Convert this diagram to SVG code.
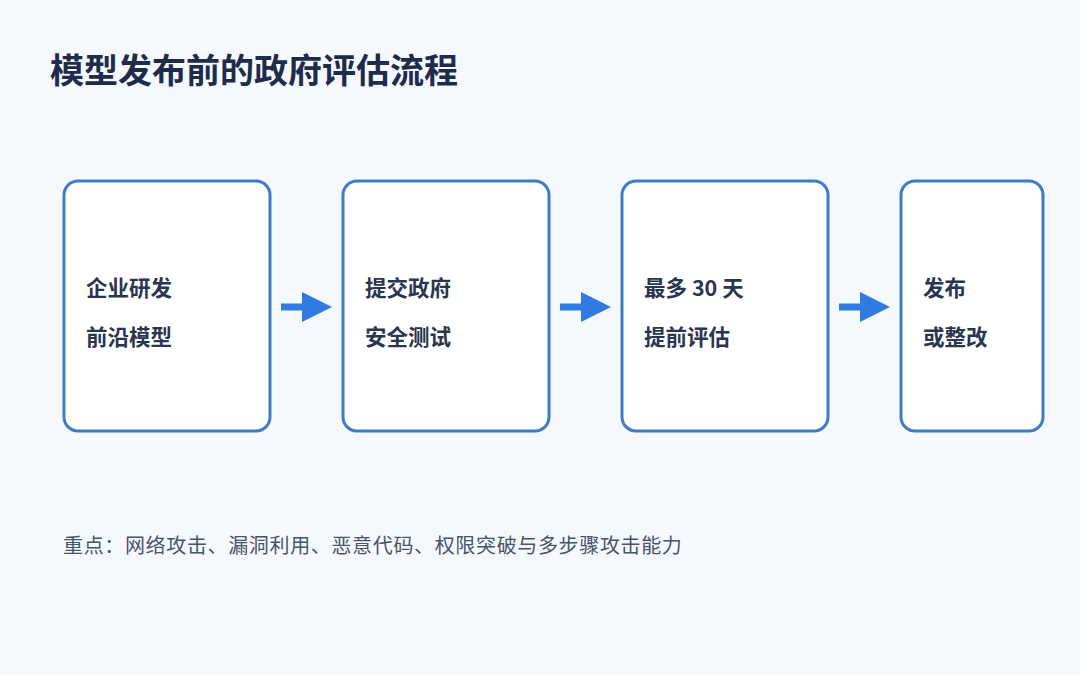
<svg xmlns="http://www.w3.org/2000/svg" width="1080" height="675" viewBox="0 0 1080 675">
<defs>
<style>
.t{font-family:"Noto Sans CJK SC","Noto Sans",sans-serif}
.title{font-size:34px;font-weight:700;fill:#1e2b4a}
.box{fill:#ffffff;stroke:#3f7cc6;stroke-width:3}
.lbl{font-size:21.5px;font-weight:700;fill:#2a3550}
.note{font-size:20px;fill:#4a5468;letter-spacing:0.65px}
.arr{stroke:#2f7be0;stroke-width:7;fill:none}
.head{fill:#2f7be0}
</style>
</defs>
<rect width="1080" height="675" fill="#f5f9fd"/>
<text class="t title" x="50" y="83">模型发布前的政府评估流程</text>
<g id="node1"><rect class="box" x="64" y="181" width="206" height="250" rx="14"/><text class="t lbl" x="86" y="296">企业研发</text><text class="t lbl" x="86" y="345">前沿模型</text></g>
<g id="node2"><rect class="box" x="343" y="181" width="206" height="250" rx="14"/><text class="t lbl" x="365" y="296">提交政府</text><text class="t lbl" x="365" y="345">安全测试</text></g>
<g id="node3"><rect class="box" x="622" y="181" width="206" height="250" rx="14"/><text class="t lbl" x="644" y="296">最多 30 天</text><text class="t lbl" x="644" y="345">提前评估</text></g>
<g id="node4"><rect class="box" x="901" y="181" width="142" height="250" rx="14"/><text class="t lbl" x="923" y="296">发布</text><text class="t lbl" x="923" y="345">或整改</text></g>
<g id="connectors">
<line class="arr" x1="281" y1="307" x2="306" y2="307"/><polygon class="head" points="302,292 332,307 302,322"/>
<line class="arr" x1="560" y1="307" x2="585" y2="307"/><polygon class="head" points="581,292 611,307 581,322"/>
<line class="arr" x1="839" y1="307" x2="864" y2="307"/><polygon class="head" points="860,292 890,307 860,322"/>
</g>
<text class="t note" x="63" y="553">重点：网络攻击、漏洞利用、恶意代码、权限突破与多步骤攻击能力</text>
</svg>
